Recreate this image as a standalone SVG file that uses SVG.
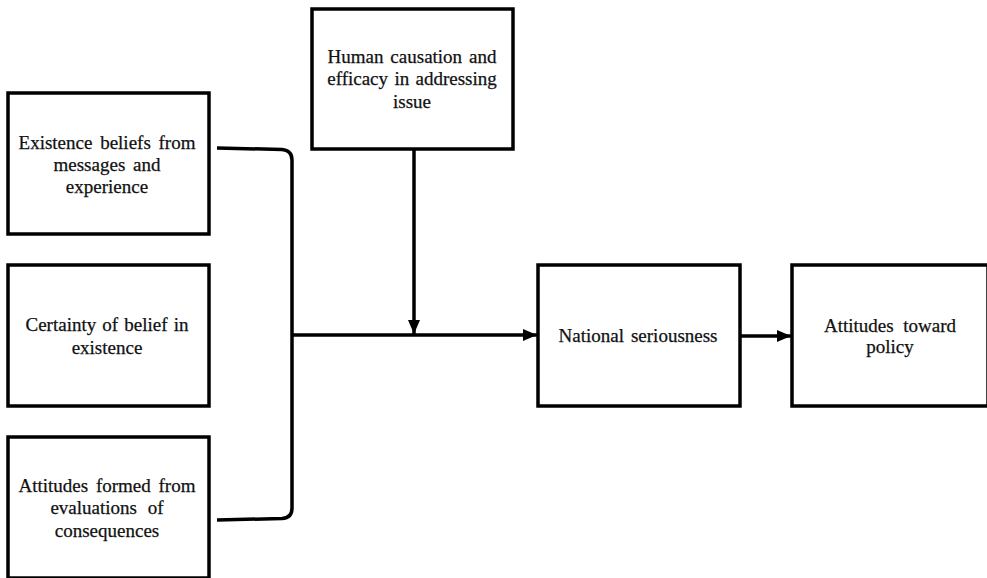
<svg xmlns="http://www.w3.org/2000/svg" width="987" height="578" viewBox="0 0 987 578">
<style>
  .box { fill: #ffffff; stroke: #000000; stroke-width: 3.5; }
  .lbl { font-family: "Liberation Serif", "Times New Roman", serif; font-size: 19px; fill: #111111; stroke: #111111; stroke-width: 0.25; text-anchor: middle; }
  .conn { fill: none; stroke: #000000; stroke-width: 3.5; }
</style>
<defs>
  <marker id="arrow" markerUnits="userSpaceOnUse" markerWidth="14" markerHeight="14" viewBox="0 0 14 14" refX="14" refY="7" orient="auto">
    <path d="M0,1 L14,7 L0,13 Z" fill="#000000"/>
  </marker>
</defs>
<rect width="987" height="578" fill="#ffffff"/>

<g id="existence">
  <rect class="box" x="8" y="93" width="201" height="141"/>
  <text class="lbl" x="107" y="149" word-spacing="3">Existence beliefs from</text>
  <text class="lbl" x="107" y="171" word-spacing="3">messages and</text>
  <text class="lbl" x="107" y="193">experience</text>
</g>

<g id="certainty">
  <rect class="box" x="8" y="265" width="201" height="141"/>
  <text class="lbl" x="107" y="331" word-spacing="1.4">Certainty of belief in</text>
  <text class="lbl" x="107" y="354">existence</text>
</g>

<g id="attitudes-formed">
  <rect class="box" x="8" y="437" width="201" height="141"/>
  <text class="lbl" x="107" y="492" word-spacing="3">Attitudes formed from</text>
  <text class="lbl" x="107" y="514" word-spacing="6">evaluations of</text>
  <text class="lbl" x="107" y="537">consequences</text>
</g>

<g id="human">
  <rect class="box" x="312" y="9" width="201" height="140"/>
  <text class="lbl" x="412" y="63" word-spacing="2.2">Human causation and</text>
  <text class="lbl" x="412" y="85" word-spacing="1.6">efficacy in addressing</text>
  <text class="lbl" x="412" y="108">issue</text>
</g>

<g id="national">
  <rect class="box" x="538" y="265" width="202" height="141"/>
  <text class="lbl" x="638" y="342" word-spacing="2.3">National seriousness</text>
</g>

<g id="policy">
  <rect class="box" x="792" y="265" width="196" height="141"/>
  <text class="lbl" x="890" y="332" word-spacing="5">Attitudes toward</text>
  <text class="lbl" x="890" y="353">policy</text>
</g>

<g id="connectors">
  <path class="conn" d="M217,148 L282,149.5 Q292,150.5 292,160 L292,508 Q292,518 282,518.5 L217,520"/>
  <path class="conn" d="M292,335 L537,335" marker-end="url(#arrow)"/>
  <path class="conn" d="M414,149 L414,334" marker-end="url(#arrow)"/>
  <path class="conn" d="M740,336 L791,336" marker-end="url(#arrow)"/>
</g>
</svg>
